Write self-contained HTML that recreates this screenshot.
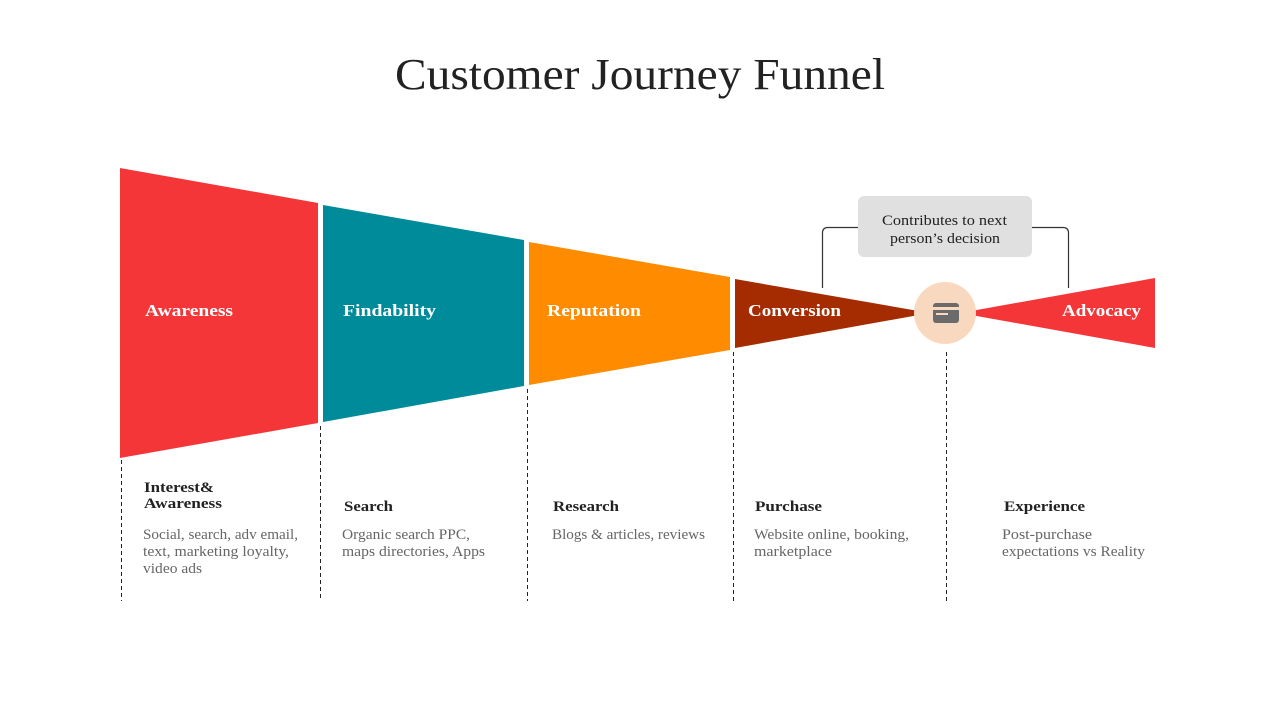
<!DOCTYPE html>
<html><head><meta charset="utf-8"><style>
html,body{margin:0;padding:0;background:#fff;}
svg{display:block;font-family:"Liberation Serif",serif;}
</style></head><body>
<svg width="1280" height="720" viewBox="0 0 1280 720" xmlns="http://www.w3.org/2000/svg">
<text x="395" y="89" font-size="44" fill="#222" textLength="490" lengthAdjust="spacingAndGlyphs">Customer Journey Funnel</text>
<polygon points="120,168 318,203 318,423 120,458" fill="#f43639"/>
<polygon points="323,205 524,240 524,386 323,422" fill="#008b9a"/>
<polygon points="529,242 730,277 730,350 529,385" fill="#ff8c00"/>
<polygon points="735,279 930,313 735,348" fill="#a52c00"/>
<polygon points="960,313 1155,278 1155,348" fill="#f43639"/>
<circle cx="945" cy="313" r="31" fill="#f8d9bf"/>
<rect x="933" y="303" width="26" height="20" rx="3" fill="#6b6b6b"/>
<rect x="933" y="307" width="26" height="3" fill="#f8d9bf"/>
<rect x="936" y="313" width="12" height="2" fill="#f8d9bf"/>
<g fill="#fff" font-weight="bold" font-size="17">
<text x="145" y="316" textLength="88" lengthAdjust="spacingAndGlyphs">Awareness</text>
<text x="343" y="316" textLength="93" lengthAdjust="spacingAndGlyphs">Findability</text>
<text x="547" y="316" textLength="94" lengthAdjust="spacingAndGlyphs">Reputation</text>
<text x="748" y="316" textLength="93" lengthAdjust="spacingAndGlyphs">Conversion</text>
<text x="1062" y="316" textLength="79" lengthAdjust="spacingAndGlyphs">Advocacy</text>
</g>
<path d="M822.5,288 V233 Q822.5,227.5 828,227.5 H858 M1032,227.5 H1063 Q1068.5,227.5 1068.5,233 V288" fill="none" stroke="#333" stroke-width="1.2"/>
<rect x="858" y="196" width="174" height="61" rx="6" fill="#e0e0e0"/>
<text x="882" y="225" font-size="15" fill="#222" textLength="125" lengthAdjust="spacingAndGlyphs">Contributes to next</text>
<text x="890" y="243" font-size="15" fill="#222" textLength="110" lengthAdjust="spacingAndGlyphs">person’s decision</text>
<g stroke="#222" stroke-width="1" stroke-dasharray="4,3">
<line x1="121.5" y1="460" x2="121.5" y2="601"/>
<line x1="320.5" y1="426" x2="320.5" y2="601"/>
<line x1="527.5" y1="389" x2="527.5" y2="601"/>
<line x1="733.5" y1="352" x2="733.5" y2="601"/>
<line x1="946.5" y1="352" x2="946.5" y2="601"/>
</g>
<g font-weight="bold" font-size="15" fill="#222">
<text x="144" y="492" textLength="70" lengthAdjust="spacingAndGlyphs">Interest&amp;</text>
<text x="144" y="508" textLength="78" lengthAdjust="spacingAndGlyphs">Awareness</text>
<text x="344" y="511" textLength="49" lengthAdjust="spacingAndGlyphs">Search</text>
<text x="553" y="511" textLength="66" lengthAdjust="spacingAndGlyphs">Research</text>
<text x="755" y="511" textLength="67" lengthAdjust="spacingAndGlyphs">Purchase</text>
<text x="1004" y="511" textLength="81" lengthAdjust="spacingAndGlyphs">Experience</text>
</g>
<g font-size="15" fill="#666">
<text x="143" y="539" textLength="155" lengthAdjust="spacingAndGlyphs">Social, search, adv email,</text>
<text x="143" y="556" textLength="146" lengthAdjust="spacingAndGlyphs">text, marketing loyalty,</text>
<text x="143" y="573" textLength="59" lengthAdjust="spacingAndGlyphs">video ads</text>
<text x="342" y="539" textLength="128" lengthAdjust="spacingAndGlyphs">Organic search PPC,</text>
<text x="342" y="556" textLength="143" lengthAdjust="spacingAndGlyphs">maps directories, Apps</text>
<text x="552" y="539" textLength="153" lengthAdjust="spacingAndGlyphs">Blogs &amp; articles, reviews</text>
<text x="754" y="539" textLength="155" lengthAdjust="spacingAndGlyphs">Website online, booking,</text>
<text x="754" y="556" textLength="78" lengthAdjust="spacingAndGlyphs">marketplace</text>
<text x="1002" y="539" textLength="90" lengthAdjust="spacingAndGlyphs">Post-purchase</text>
<text x="1002" y="556" textLength="143" lengthAdjust="spacingAndGlyphs">expectations vs Reality</text>
</g>
</svg>
</body></html>
